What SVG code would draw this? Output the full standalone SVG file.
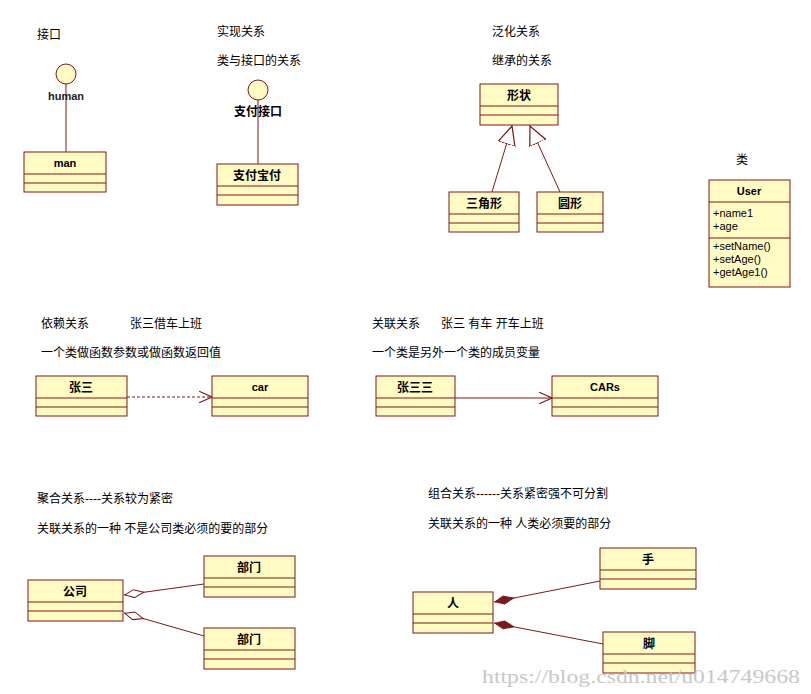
<svg xmlns="http://www.w3.org/2000/svg" width="811" height="694" viewBox="0 0 811 694">
<style>
text{font-family:"Liberation Sans","Noto Sans CJK SC",sans-serif;font-size:12px;fill:#000}
.b rect,.b line,.c{stroke:#7b1a1a;stroke-width:1}
.b rect{fill:#fffbc3}
.h{font-weight:bold;text-anchor:middle}
.m{font-size:11px}
.ln{stroke:#7b1a1a;fill:none;stroke-width:1}
</style>
<defs>
<marker id="gen" markerUnits="userSpaceOnUse" markerWidth="20" markerHeight="20" refX="15" refY="7" orient="auto" viewBox="0 0 16 14"><path d="M0,0 L15,7 L0,14 Z" fill="#fff" stroke="#7b1a1a"/></marker>
<marker id="open" markerUnits="userSpaceOnUse" markerWidth="14" markerHeight="14" refX="11" refY="6" orient="auto" viewBox="0 0 12 12"><path d="M0,1 L11,6 L0,11" fill="none" stroke="#7b1a1a"/></marker>
<marker id="agg" markerUnits="userSpaceOnUse" markerWidth="22" markerHeight="10" refX="0" refY="5" orient="auto" viewBox="0 0 22 10"><path d="M1,5 L10,1 L20,5 L10,9 Z" fill="#fff" stroke="#7b1a1a"/></marker>
<marker id="comp" markerUnits="userSpaceOnUse" markerWidth="22" markerHeight="10" refX="0" refY="5" orient="auto" viewBox="0 0 22 10"><path d="M1,5 L10,1 L20,5 L10,9 Z" fill="#7b1a1a" stroke="#7b1a1a"/></marker>
</defs>
<rect width="811" height="694" fill="#fff"/>
<g id="labels">
<text x="37" y="39">接口</text>
<text x="217" y="36">实现关系</text>
<text x="217" y="65">类与接口的关系</text>
<text x="492" y="36">泛化关系</text>
<text x="492" y="65">继承的关系</text>
<text x="736" y="164">类</text>
<text x="41" y="328">依赖关系</text>
<text x="130" y="328">张三借车上班</text>
<text x="41" y="357">一个类做函数参数或做函数返回值</text>
<text x="372" y="328">关联关系</text>
<text x="441" y="328">张三 有车 开车上班</text>
<text x="372" y="357">一个类是另外一个类的成员变量</text>
<text x="37" y="503">聚合关系----关系较为紧密</text>
<text x="37" y="533">关联关系的一种  不是公司类必须的要的部分</text>
<text x="428" y="498">组合关系------关系紧密强不可分割</text>
<text x="428" y="528">关联关系的一种  人类必须要的部分</text>
</g>
<g id="connectors">
<line class="ln" x1="66" y1="84" x2="66" y2="152"/>
<line class="ln" x1="258" y1="100" x2="258" y2="164"/>
<line class="ln" x1="492" y1="192" x2="512" y2="126" marker-end="url(#gen)"/>
<line class="ln" x1="560" y1="192" x2="530" y2="126" marker-end="url(#gen)"/>
<line class="ln" x1="127" y1="397" x2="212" y2="397" stroke-dasharray="3,2" marker-end="url(#open)"/>
<line class="ln" x1="455" y1="398" x2="552" y2="398" marker-end="url(#open)"/>
<line class="ln" x1="124" y1="595" x2="204" y2="584" marker-start="url(#agg)"/>
<line class="ln" x1="124" y1="613" x2="204" y2="636" marker-start="url(#agg)"/>
<line class="ln" x1="494" y1="602" x2="600" y2="581" marker-start="url(#comp)"/>
<line class="ln" x1="494" y1="623" x2="603" y2="644" marker-start="url(#comp)"/>
</g>
<g id="human"><circle class="c" cx="66" cy="74" r="10" fill="#fffbc3"/><text class="h" x="66" y="100" style="font-size:11px;fill:#222">human</text></g>
<g id="pay-if"><circle class="c" cx="258" cy="90" r="10" fill="#fffbc3"/><text class="h" x="258" y="116">支付接口</text></g>
<g id="man" class="b"><rect x="24" y="152" width="82" height="40"/><line x1="24" y1="174" x2="106" y2="174"/><line x1="24" y1="183" x2="106" y2="183"/><text class="h m" x="65" y="167">man</text></g>
<g id="alipay" class="b"><rect x="217" y="164" width="81" height="41"/><line x1="217" y1="186" x2="298" y2="186"/><line x1="217" y1="195" x2="298" y2="195"/><text class="h" x="257" y="180">支付宝付</text></g>
<g id="shape" class="b"><rect x="480" y="84" width="78" height="41"/><line x1="480" y1="106" x2="558" y2="106"/><line x1="480" y1="115" x2="558" y2="115"/><text class="h" x="519" y="100">形状</text></g>
<g id="tri" class="b"><rect x="449" y="192" width="70" height="40"/><line x1="449" y1="214" x2="519" y2="214"/><line x1="449" y1="223" x2="519" y2="223"/><text class="h" x="484" y="208">三角形</text></g>
<g id="circ" class="b"><rect x="537" y="192" width="66" height="40"/><line x1="537" y1="214" x2="603" y2="214"/><line x1="537" y1="223" x2="603" y2="223"/><text class="h" x="570" y="208">圆形</text></g>
<g id="user" class="b"><rect x="709" y="180" width="81" height="107"/><line x1="709" y1="202" x2="790" y2="202"/><line x1="709" y1="238" x2="790" y2="238"/><text class="h m" x="749" y="195">User</text>
<text class="m" x="713" y="217">+name1</text><text class="m" x="713" y="230">+age</text><text class="m" x="713" y="250">+setName()</text><text class="m" x="713" y="263">+setAge()</text><text class="m" x="713" y="276">+getAge1()</text></g>
<g id="zs" class="b"><rect x="36" y="376" width="91" height="40"/><line x1="36" y1="398" x2="127" y2="398"/><line x1="36" y1="407" x2="127" y2="407"/><text class="h" x="81" y="392">张三</text></g>
<g id="car" class="b"><rect x="212" y="376" width="96" height="40"/><line x1="212" y1="398" x2="308" y2="398"/><line x1="212" y1="407" x2="308" y2="407"/><text class="h m" x="260" y="391">car</text></g>
<g id="zss" class="b"><rect x="376" y="376" width="79" height="40"/><line x1="376" y1="398" x2="455" y2="398"/><line x1="376" y1="407" x2="455" y2="407"/><text class="h" x="415" y="392">张三三</text></g>
<g id="cars" class="b"><rect x="552" y="376" width="106" height="40"/><line x1="552" y1="398" x2="658" y2="398"/><line x1="552" y1="407" x2="658" y2="407"/><text class="h m" x="605" y="391">CARs</text></g>
<g id="company" class="b"><rect x="28" y="580" width="95" height="41"/><line x1="28" y1="602" x2="123" y2="602"/><line x1="28" y1="611" x2="123" y2="611"/><text class="h" x="75" y="596">公司</text></g>
<g id="dept1" class="b"><rect x="204" y="556" width="91" height="41"/><line x1="204" y1="578" x2="295" y2="578"/><line x1="204" y1="587" x2="295" y2="587"/><text class="h" x="249" y="572">部门</text></g>
<g id="dept2" class="b"><rect x="204" y="628" width="91" height="41"/><line x1="204" y1="650" x2="295" y2="650"/><line x1="204" y1="659" x2="295" y2="659"/><text class="h" x="249" y="644">部门</text></g>
<g id="person" class="b"><rect x="413" y="592" width="80" height="41"/><line x1="413" y1="614" x2="493" y2="614"/><line x1="413" y1="623" x2="493" y2="623"/><text class="h" x="453" y="608">人</text></g>
<g id="hand" class="b"><rect x="600" y="548" width="96" height="41"/><line x1="600" y1="570" x2="696" y2="570"/><line x1="600" y1="579" x2="696" y2="579"/><text class="h" x="648" y="564">手</text></g>
<g id="foot" class="b"><rect x="603" y="632" width="92" height="41"/><line x1="603" y1="654" x2="695" y2="654"/><line x1="603" y1="663" x2="695" y2="663"/><text class="h" x="649" y="648">脚</text></g>
<text x="482" y="683" textLength="318" lengthAdjust="spacingAndGlyphs" style="font-family:'Liberation Serif',serif;font-size:19px;fill:#c8c8c8">https://blog.csdn.net/u014749668</text>
</svg>
